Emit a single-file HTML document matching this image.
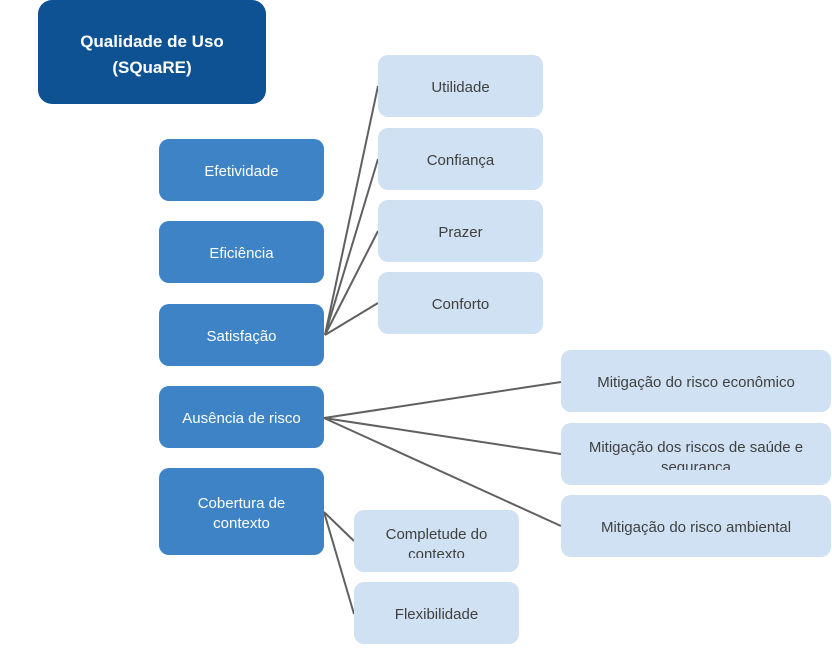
<!DOCTYPE html>
<html><head><meta charset="utf-8"><style>
body{margin:0;width:832px;height:661px;background:#fff;position:relative;overflow:hidden;font-family:"Liberation Sans",sans-serif}
.b{position:absolute;border-radius:10px;display:flex;align-items:center;justify-content:center;text-align:center;font-size:15px;line-height:20px;box-sizing:border-box;overflow:hidden;padding-top:4px}
.d{background:#3e83c5;color:#fff}
.l{background:#cfe1f2;color:#404040}
.c{align-items:flex-start}
</style></head><body>
<div class="b" style="left:38px;top:0;width:228px;height:104px;background:#0e5293;color:#fff;font-weight:bold;font-size:17px;line-height:26px;border-radius:14px;padding-top:6px">Qualidade de Uso<br>(SQuaRE)</div>
<svg style="position:absolute;left:0;top:0" width="832" height="661">
<g stroke="#606060" stroke-width="2" fill="none">
<line x1="325" y1="335" x2="378" y2="86"/>
<line x1="325" y1="335" x2="378" y2="159"/>
<line x1="325" y1="335" x2="378" y2="231"/>
<line x1="325" y1="335" x2="378" y2="303"/>
<line x1="324" y1="418" x2="561" y2="382"/>
<line x1="324" y1="418" x2="561" y2="454"/>
<line x1="324" y1="418" x2="561" y2="526"/>
<line x1="324" y1="512" x2="354" y2="541"/>
<line x1="324" y1="512" x2="354" y2="614"/>
</g></svg>
<div class="b d" style="left:159px;top:139px;width:165px;height:62px">Efetividade</div>
<div class="b d" style="left:159px;top:221px;width:165px;height:62px">Eficiência</div>
<div class="b d" style="left:159px;top:304px;width:165px;height:62px">Satisfação</div>
<div class="b d" style="left:159px;top:386px;width:165px;height:62px">Ausência de risco</div>
<div class="b d" style="left:159px;top:468px;width:165px;height:87px">Cobertura de<br>contexto</div>
<div class="b l" style="left:378px;top:55px;width:165px;height:62px">Utilidade</div>
<div class="b l" style="left:378px;top:128px;width:165px;height:62px">Confiança</div>
<div class="b l" style="left:378px;top:200px;width:165px;height:62px">Prazer</div>
<div class="b l" style="left:378px;top:272px;width:165px;height:62px">Conforto</div>
<div class="b l" style="left:561px;top:350px;width:270px;height:62px">Mitigação do risco econômico</div>
<div class="b l c" style="left:561px;top:423px;width:270px;height:62px;padding-top:15px"><div style="height:32px;overflow:hidden">Mitigação dos riscos de saúde e<br>segurança</div></div>
<div class="b l" style="left:561px;top:495px;width:270px;height:62px">Mitigação do risco ambiental</div>
<div class="b l c" style="left:354px;top:510px;width:165px;height:62px;padding-top:15px"><div style="height:33px;overflow:hidden">Completude do<br>contexto</div></div>
<div class="b l" style="left:354px;top:582px;width:165px;height:62px">Flexibilidade</div>
</body></html>
